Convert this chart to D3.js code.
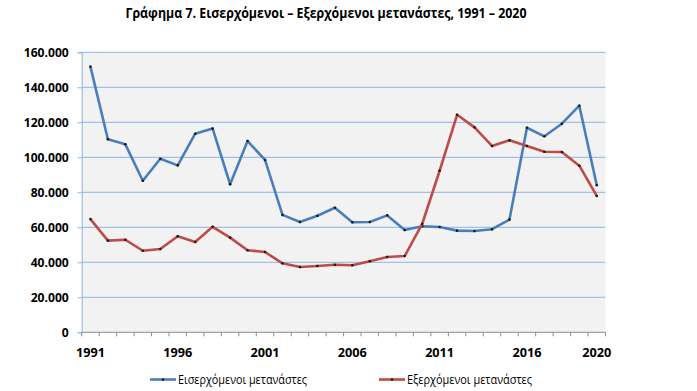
<!DOCTYPE html>
<html>
<head>
<meta charset="utf-8">
<script src="https://cdn.jsdelivr.net/npm/d3@7"></script>
<style>
  html, body { margin: 0; padding: 0; background: #fff; }
  svg { display: block; }
</style>
</head>
<body>
<svg id="chart" width="697" height="391"></svg>
<script>
// ---- data ----
const years = d3.range(1991, 2021);
const titleText = "Γράφημα 7. Εισερχόμενοι – Εξερχόμενοι μετανάστες, 1991 – 2020";
const seriesNames = ["Εισερχόμενοι μετανάστες", "Εξερχόμενοι μετανάστες"];
const incoming = [151800, 110300, 107400, 86600, 99200, 95400, 113500, 116400, 84600, 109300,
                  98500, 67100, 63000, 66600, 71200, 62900, 63000, 66800, 58500, 60600,
                  60200, 58100, 57900, 58900, 64400, 116900, 112000, 119200, 129500, 84000];
const outgoing = [64700, 52400, 52900, 46600, 47600, 54900, 51600, 60300, 54100, 46900,
                  45900, 39400, 37300, 37900, 38600, 38300, 40600, 43000, 43600, 61900,
                  92300, 124300, 117100, 106500, 109700, 106500, 103200, 103000, 95200, 77900];
const yTicks = [0, 20000, 40000, 60000, 80000, 100000, 120000, 140000, 160000];
const xTickLabels = [1991, 1996, 2001, 2006, 2011, 2016, 2020];
const colors = ["#4A7EBB", "#BE4B48"];

// ---- layout ----
const svg = d3.select("#chart");
const L = 81.7, R = 605.5, T = 52.3, B = 332.3;
const font = "'Open Sans', 'Noto Sans', 'DejaVu Sans', sans-serif";

const x = d3.scaleBand().domain(years).range([L, R]).padding(0);
const y = d3.scaleLinear().domain([0, 160000]).range([B, T]);
const loc = d3.formatLocale({decimal: ",", thousands: ".", grouping: [3], currency: ["", "€"]});
const fmt = loc.format(",.0f");

// plot background
svg.append("rect").attr("x", L).attr("y", T).attr("width", R - L).attr("height", B - T)
  .attr("fill", "#F2F2F2");

// gridlines
svg.append("g").selectAll("line").data(yTicks.filter(d => d > 0)).join("line")
  .attr("x1", L).attr("x2", R).attr("y1", d => y(d)).attr("y2", d => y(d))
  .attr("stroke", "#8EB4E3").attr("stroke-width", 1);

// y axis
const yAxis = svg.append("g").attr("transform", `translate(${L},0)`)
  .call(d3.axisLeft(y).tickValues(yTicks).tickFormat(fmt).tickSize(4).tickPadding(9));
yAxis.select(".domain").attr("stroke", "#8EB4E3");
yAxis.selectAll(".tick line").attr("stroke", "#8EB4E3");
yAxis.selectAll("text").attr("font-family", font).attr("font-weight", "bold")
  .attr("font-size", "13px").attr("fill", "#000")
  .attr("textLength", function () { return this.getComputedTextLength() * 0.93; })
  .attr("lengthAdjust", "spacingAndGlyphs");

// x axis: ticks at category boundaries
const xb = svg.append("g");
xb.append("line").attr("x1", L).attr("x2", R).attr("y1", B).attr("y2", B)
  .attr("stroke", "#8C8C8C").attr("stroke-width", 1);
const bounds = years.map(d => x(d)).concat([x(years[years.length - 1]) + x.bandwidth()]);
xb.selectAll("line.tk").data(bounds).join("line").attr("class", "tk")
  .attr("x1", d => d).attr("x2", d => d).attr("y1", B).attr("y2", B + 4)
  .attr("stroke", "#8C8C8C");
xb.selectAll("text").data(xTickLabels).join("text")
  .attr("x", d => x(d) + x.bandwidth() / 2).attr("y", 356.5)
  .attr("text-anchor", "middle").attr("font-family", font).attr("font-weight", "bold")
  .attr("font-size", "13px").attr("fill", "#000").text(d => d)
  .attr("textLength", 29).attr("lengthAdjust", "spacingAndGlyphs");

// lines
const series = [incoming, outgoing];
const line = d3.line().x((d, i) => x(years[i]) + x.bandwidth() / 2).y(d => y(d));
series.forEach((s, k) => {
  svg.append("path").datum(s).attr("d", line).attr("fill", "none")
    .attr("stroke", colors[k]).attr("stroke-width", 2.6).attr("stroke-linejoin", "round");
  svg.append("g").selectAll("circle").data(s).join("circle")
    .attr("cx", (d, i) => x(years[i]) + x.bandwidth() / 2).attr("cy", d => y(d))
    .attr("r", 1.3).attr("fill", "#1a1a1a");
});

// title
svg.append("text").attr("x", 326).attr("y", 18).attr("text-anchor", "middle")
  .attr("font-family", font).attr("font-weight", "bold").attr("font-size", "14px")
  .attr("fill", "#000").text(titleText)
  .attr("textLength", 401).attr("lengthAdjust", "spacingAndGlyphs");

// legend
const legendItems = [
  {x1: 150, x2: 176, tx: 178, w: 129},
  {x1: 379, x2: 405, tx: 407, w: 125}
];
legendItems.forEach((it, k) => {
  const g = svg.append("g");
  g.append("line").attr("x1", it.x1).attr("x2", it.x2).attr("y1", 379.5).attr("y2", 379.5)
    .attr("stroke", colors[k]).attr("stroke-width", 2.6);
  g.append("circle").attr("cx", (it.x1 + it.x2) / 2).attr("cy", 379.5).attr("r", 1.3).attr("fill", "#1a1a1a");
  g.append("text").attr("x", it.tx).attr("y", 384)
    .attr("font-family", font).attr("font-size", "12px").attr("fill", "#000")
    .text(seriesNames[k])
    .attr("textLength", it.w).attr("lengthAdjust", "spacingAndGlyphs");
});
</script>
</body>
</html>
